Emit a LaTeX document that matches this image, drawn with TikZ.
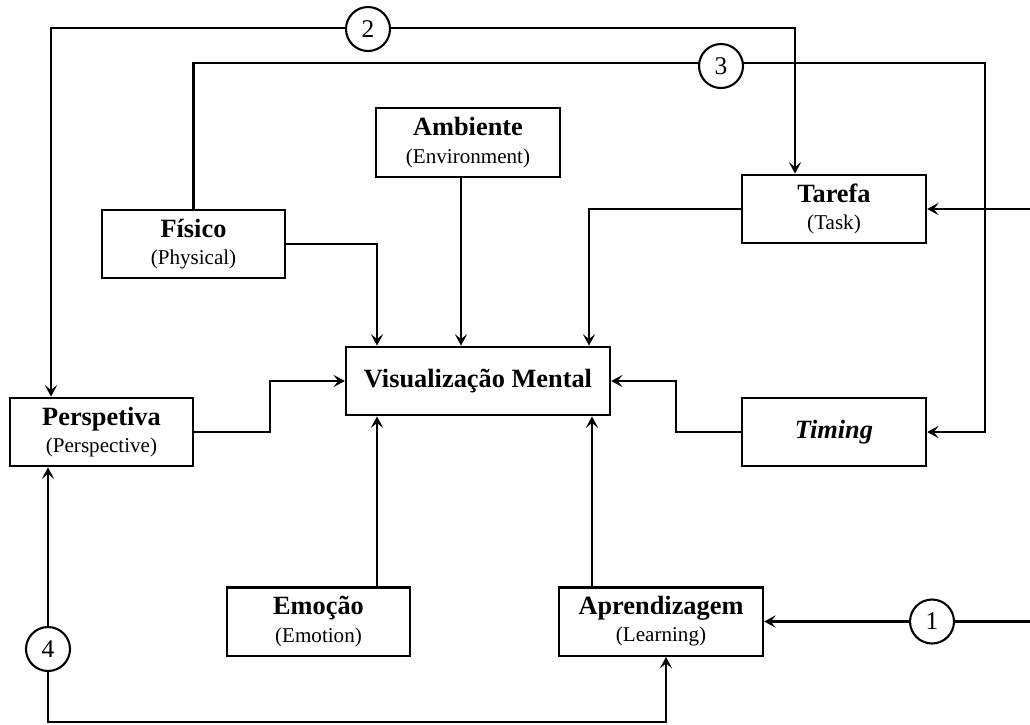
\documentclass[tikz,border=0pt]{standalone}
\usepackage{fontspec}
\setmainfont{Liberation Serif}
\usetikzlibrary{arrows.meta,calc}
\newcommand\boxtitle[1]{{\fontsize{15}{15}\selectfont\bfseries #1}}
\tikzset{
  >={Stealth[length=6.5pt,width=7pt,inset=2.8pt]},
  box/.style={draw, line width=1.4pt, minimum height=1.37cm, inner sep=0pt, align=center,
              font=\fontsize{12}{15.5}\selectfont},
  conn/.style={line width=1.3pt},
  thinconn/.style={line width=1pt},
  num/.style={circle, draw, line width=1.2pt, fill=white, minimum size=0.88cm, inner sep=0pt,
              font=\fontsize{14.5}{14.5}\selectfont}
}
\begin{document}
\begin{tikzpicture}[x=0.02cm,y=-0.02cm]
\useasboundingbox (0,0) rectangle (1030,724);
% boxes
\node[box,minimum width=3.66cm] (fis) at (193.5,244) {\boxtitle{Físico}\\(Physical)};
\node[box,minimum width=3.68cm] (amb) at (468,142.5) {\boxtitle{Ambiente}\\(Environment)};
\node[box,minimum width=3.68cm] (tar) at (834,209) {\boxtitle{Tarefa}\\(Task)};
\node[box,minimum width=3.66cm] (per) at (101.5,432) {\boxtitle{Perspetiva}\\(Perspective)};
\node[box,minimum width=5.28cm] (vis) at (478,381) {\boxtitle{Visualização Mental}};
\node[box,minimum width=3.66cm] (emo) at (318.5,621.5) {\boxtitle{Emoção}\\(Emotion)};
\node[box,minimum width=3.68cm] (tim) at (834,432) {\boxtitle{\itshape Timing}};
\node[box,minimum width=4.08cm] (apr) at (661,621.5) {\boxtitle{Aprendizagem}\\(Learning)};
% free ends
\coordinate (eT) at (1030,209);
\coordinate (e1) at (1030,621.5);
% connectors into Visualizacao Mental
\draw[conn,->] (fis.east) -| (vis.north -| 377,0);
\draw[conn,->] (amb.south -| 461,0) -- (vis.north -| 461,0);
\draw[conn,->] (tar.west) -| (vis.north -| 589,0);
\draw[conn,->] (per.east) -- (270,432) |- (vis.west);
\draw[conn,->] (tim.west) -- (676,432) |- (vis.east);
\draw[conn,->] (emo.north -| 377,0) -- (vis.south -| 377,0);
\draw[conn,->] (apr.north -| 592,0) -- (vis.south -| 592,0);
% feedback loops
\draw[thinconn,<->] (per.north -| 51,0) |- (368,28) -| (tar.north -| 795,0);
\draw[conn,->] (fis.north) |- (985,63) |- (tim.east);
\draw[conn,->] (eT) -- (tar.east);
\draw[conn,->] (e1) -- (apr.east);
\draw[conn,<->] (per.south -| 48,0) -- (48,722) -| (apr.south -| 666,0);
% numbered circles
\node[num] (n2) at (368,29) {2};
\node[num] (n3) at (721,66) {3};
\node[num] (n1) at (932,621.5) {1};
\node[num] (n4) at (48,649) {4};
\end{tikzpicture}
\end{document}
